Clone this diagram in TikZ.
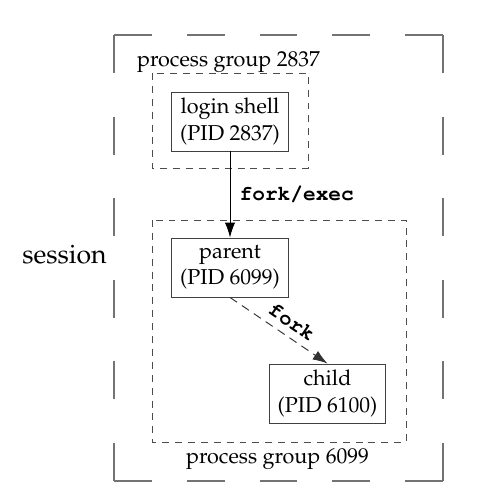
\documentclass[tikz,border=0pt]{standalone}
\usepackage[T1]{fontenc}
\usepackage{mathpazo}
\usepackage{courier}
\usetikzlibrary{arrows.meta,positioning}

\begin{document}
\begin{tikzpicture}[x=0.473pt,y=-0.473pt,>={Latex[length=7pt,width=4.8pt]}]
  \useasboundingbox (0,0) rectangle (503,502);
  \tikzset{
    process/.style={rectangle,draw=black!75,line width=0.45pt,minimum width=54.9pt,
      minimum height=27.9pt,align=center,inner sep=1pt,font=\fontsize{10.2}{12.5}\selectfont},
    groupBox/.style={draw=black!70,line width=0.45pt,dash pattern=on 3.3pt off 2.8pt},
    sessionH/.style={draw=black!55,line width=0.6pt,dash pattern=on 17.97pt off 16.44pt},
    sessionV/.style={draw=black!55,line width=0.6pt,dash pattern=on 17.97pt off 20.63pt},
    % edge styles
    post/.style={->,line width=0.45pt},
    forkEdge/.style={->,line width=0.45pt,draw=black!80,dash pattern=on 4pt off 2.8pt},
    %label styles
    groupLabel/.style={anchor=base,font=\fontsize{10.2}{12.5}\selectfont},
    callLabel/.style={font=\ttfamily\bfseries\fontsize{10}{12}\selectfont}
  }

  %% Session
  \coordinate (sesNW) at (114,35);
  \coordinate (sesNE) at (443,35);
  \coordinate (sesSE) at (443,481);
  \coordinate (sesSW) at (114,481);
  \draw [sessionH] (sesNW) -- (sesNE);
  \draw [sessionH] (sesSW) -- (sesSE);
  \draw [sessionV] (sesNW) -- (sesSW);
  \draw [sessionV] (sesNE) -- (sesSE);
  \node [anchor=base, font=\fontsize{12.6}{15}\selectfont] (sesLabel) at (64.5,263) {session};

  %% Process group 2837
  \coordinate (pgaNW) at (152,73);
  \coordinate (pgaSE) at (308,168);
  \draw [groupBox] (pgaNW) rectangle (pgaSE);
  \node [groupLabel] (pgaLabel) at (228.5,67) {process group 2837};
  \node [process] (login) at (230,121.5) {login shell\\(PID 2837)};

  %% Process group 6099
  \coordinate (pgbNW) at (152,220);
  \coordinate (pgbSE) at (406,442);
  \draw [groupBox] (pgbNW) rectangle (pgbSE);
  \node [groupLabel] (pgbLabel) at (277.5,463) {process group 6099};
  \node [process] (parent) at (230,267.5) {parent\\(PID 6099)};
  \node [process] (child) at (327.5,393.5) {child\\(PID 6100)};

  %% Calls
  \draw [post] (login) -- node[callLabel, right=1pt] {fork/exec} (parent);
  \draw [forkEdge] (parent.south) -- node[callLabel, sloped, above, pos=0.55] {fork} (child.north);

\end{tikzpicture}
\end{document}
